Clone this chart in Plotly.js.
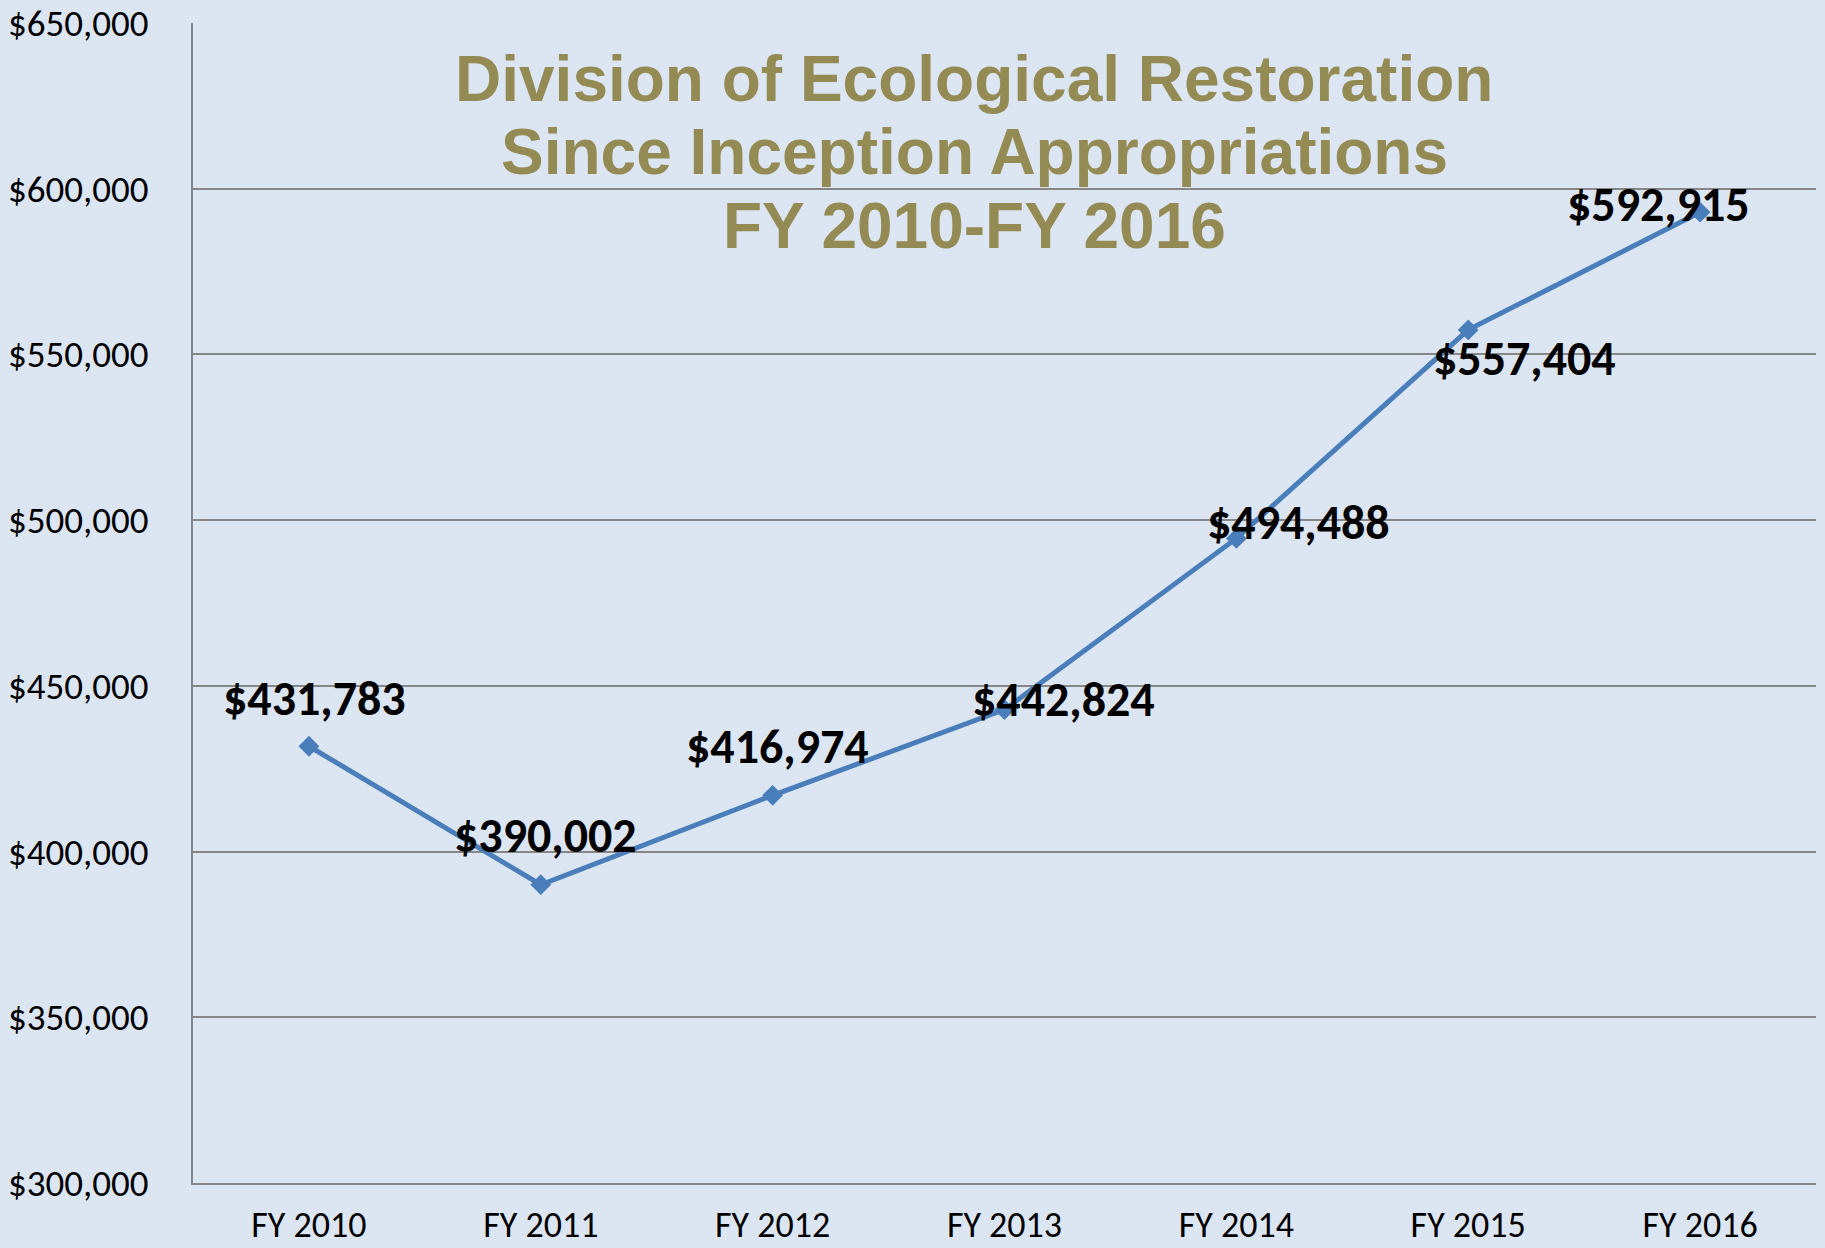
<!DOCTYPE html>
<html>
<head>
<meta charset="utf-8">
<script src="https://cdn.plot.ly/plotly-3.0.1.min.js"></script>
<style>html,body{margin:0;padding:0;background:#DCE6F2;}#chart{width:1825px;height:1248px;}</style>
</head>
<body>
<div id="chart"></div>
<script>
const categories = ["FY 2010", "FY 2011", "FY 2012", "FY 2013", "FY 2014", "FY 2015", "FY 2016"];
const appropriations = [431783, 390002, 416974, 442824, 494488, 557404, 592915];
const yTickValues = [300000, 350000, 400000, 450000, 500000, 550000, 600000, 650000];
const yTickLabels = ["$300,000", "$350,000", "$400,000", "$450,000", "$500,000", "$550,000", "$600,000", "$650,000"];
const titleLines = ["Division of Ecological Restoration", "Since Inception Appropriations", "FY 2010-FY 2016"];

// label offsets (pixels) relative to each point
const labelShiftX = [6, 5, 5, 59, 62, 56, -42];
const labelShiftY = [48, 49, 49, 10, 16, -29, 8];

const trace = {
  x: categories,
  y: appropriations,
  type: "scatter",
  mode: "lines+markers",
  line: {color: "#4A7EBB", width: 5},
  marker: {symbol: "diamond", size: 16, color: "#4A7EBB"},
  hoverinfo: "skip"
};

const fmt = v => "$" + v.toLocaleString("en-US");

const annotations = categories.map((c, i) => ({
  x: c, y: appropriations[i], xref: "x", yref: "y",
  text: fmt(appropriations[i]), showarrow: false,
  xshift: labelShiftX[i], yshift: labelShiftY[i],
  font: {family: "Carlito, Lato, sans-serif", size: 48, color: "#000000", weight: "bold"}
}));

const titleY = [79, 152, 226];
titleLines.forEach((t, i) => {
  annotations.push({
    x: 974, y: titleY[i], xref: "paper", yref: "paper", text: "<b>" + t + "</b>", showarrow: false,
    xanchor: "center", yanchor: "middle",
    font: {family: "Liberation Sans, Arial, sans-serif", size: 64, color: "#948A54"}
  });
});

const layout = {
  width: 1825, height: 1248,
  paper_bgcolor: "#DCE6F2",
  plot_bgcolor: "#DCE6F2",
  margin: {l: 193, r: 9, t: 23, b: 65},
  showlegend: false,
  xaxis: {
    type: "category",
    range: [-0.5, 6.5],
    showgrid: false,
    showline: true, linecolor: "#868686", linewidth: 2,
    ticks: "", ticklabelstandoff: 9,
    tickfont: {family: "Carlito, Lato, sans-serif", size: 36, color: "#000000"},
    fixedrange: true, zeroline: false
  },
  yaxis: {
    range: [300000, 650000],
    tickvals: yTickValues,
    ticktext: yTickLabels,
    showgrid: true, gridcolor: "#868686", gridwidth: 2,
    showline: true, linecolor: "#868686", linewidth: 2,
    ticks: "", ticklabelstandoff: 35,
    tickfont: {family: "Carlito, Lato, sans-serif", size: 37, color: "#000000"},
    zeroline: false, fixedrange: true
  },
  annotations: annotations
};

// convert title pixel positions to paper coords
const plotW = 1825 - 193 - 9, plotH = 1248 - 23 - 65;
layout.annotations.forEach(a => {
  if (a.xref === "paper") {
    a.x = (a.x - 193) / plotW;
    a.y = 1 - (a.y - 23) / plotH;
  }
});

Plotly.newPlot("chart", [trace], layout, {displayModeBar: false, staticPlot: true});
</script>
</body>
</html>
